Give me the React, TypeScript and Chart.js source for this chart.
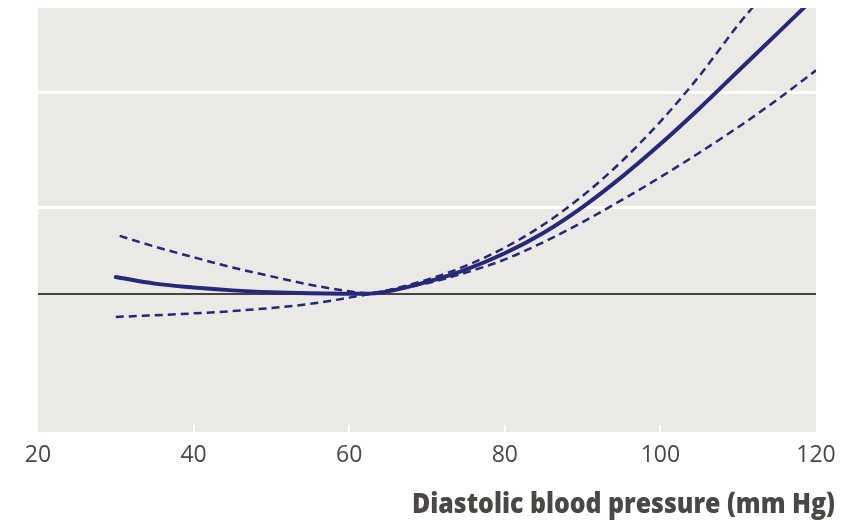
import React, { useEffect, useRef } from 'react';
import { Chart, registerables } from 'chart.js';

Chart.register(...registerables);

// ---- data ----
const xTickValues = [20, 40, 60, 80, 100, 120];
const yGridValues = [1, 2, 5];
const referenceValue = 1;
const xAxisTitle = 'Diastolic blood pressure (mm Hg)';

const estimateX = [30, 35, 40, 45, 50, 55, 60, 62, 65, 70, 75, 80, 85, 90, 95, 100, 105, 110, 115, 118.5];
const estimateY = [1.144, 1.085, 1.052, 1.028, 1.013, 1.005, 1.001, 1.0, 1.02, 1.1, 1.215, 1.384, 1.632, 2.004, 2.547, 3.32, 4.415, 5.96, 8.04, 9.92];

const upperX = [30.5, 35, 40, 45, 50, 55, 60, 62.3, 65, 70, 75, 80, 85, 90, 95, 100, 105, 110, 111.9];
const upperY = [1.59, 1.46, 1.34, 1.235, 1.15, 1.075, 1.02, 1.005, 1.03, 1.12, 1.252, 1.448, 1.742, 2.192, 2.886, 3.975, 5.726, 8.63, 9.95];

const lowerX = [30, 35, 40, 45, 50, 55, 60, 62.3, 65, 70, 75, 80, 85, 90, 95, 100, 105, 110, 115, 120];
const lowerY = [0.831, 0.842, 0.855, 0.871, 0.893, 0.923, 0.97, 0.995, 1.025, 1.089, 1.185, 1.317, 1.514, 1.777, 2.117, 2.547, 3.096, 3.8, 4.735, 5.99];

const NAVY = '#26287a';
const TEXT = '#4b4745';
const PANEL = '#eae9e5';

const toPoints = (xs: number[], ys: number[]) => xs.map((x, i) => ({ x, y: ys[i] }));

const panelPlugin = {
  id: 'panel',
  beforeDraw(chart: any) {
    const { ctx, chartArea } = chart;
    ctx.save();
    ctx.fillStyle = PANEL;
    ctx.fillRect(chartArea.left, chartArea.top, chartArea.right - chartArea.left, chartArea.bottom - chartArea.top);
    ctx.restore();
  },
  beforeDatasetsDraw(chart: any) {
    const { ctx, chartArea } = chart;
    const xs = chart.scales.x;
    ctx.save();
    ctx.strokeStyle = '#ffffff';
    ctx.lineWidth = 2;
    xTickValues.slice(1, -1).forEach((v) => {
      const px = Math.round(xs.getPixelForValue(v));
      ctx.beginPath();
      ctx.moveTo(px, chartArea.bottom - 7);
      ctx.lineTo(px, chartArea.bottom);
      ctx.stroke();
    });
    ctx.restore();
  },
  afterDraw(chart: any) {
    const { ctx, chartArea } = chart;
    ctx.save();
    ctx.fillStyle = TEXT;
    ctx.font = '800 29px "Open Sans"';
    ctx.textAlign = 'right';
    ctx.textBaseline = 'alphabetic';
    ctx.fillText(xAxisTitle, chartArea.right + 19, chartArea.bottom + 81, 423);
    ctx.restore();
  },
};

export default function App() {
  const canvasRef = useRef<HTMLCanvasElement | null>(null);

  useEffect(() => {
    if (!canvasRef.current) return;
    const common = {
      pointRadius: 0,
      fill: false,
      cubicInterpolationMode: 'monotone' as const,
      borderColor: NAVY,
    };
    const chart = new Chart(canvasRef.current, {
      type: 'line',
      data: {
        datasets: [
          { ...common, label: 'Estimate', data: toPoints(estimateX, estimateY), borderWidth: 4, borderCapStyle: 'round' },
          { ...common, label: 'Upper', data: toPoints(upperX, upperY), borderWidth: 2.5, borderDash: [8, 5] },
          { ...common, label: 'Lower', data: toPoints(lowerX, lowerY), borderWidth: 2.5, borderDash: [8, 5] },
        ],
      },
      options: {
        animation: false,
        responsive: false,
        layout: { padding: { left: 38, right: 40, top: 8, bottom: 0 } },
        plugins: { legend: { display: false }, tooltip: { enabled: false }, title: { display: false } },
        scales: {
          x: {
            type: 'linear',
            bounds: 'data',
            min: 20,
            max: 120,
            afterBuildTicks: (s: any) => {
              s.ticks = xTickValues.map((v) => ({ value: v }));
            },
            afterFit: (s: any) => {
              s.height = 88;
            },
            grid: { display: false, drawTicks: false },
            border: { display: false },
            ticks: {
              color: TEXT,
              padding: 10,
              maxRotation: 0,
              autoSkip: false,
              font: { family: '"Open Sans"', size: 23 },
            },
          },
          y: {
            type: 'logarithmic',
            bounds: 'data',
            min: 0.3306,
            max: 9.87,
            afterBuildTicks: (s: any) => {
              s.ticks = yGridValues.map((v) => ({ value: v }));
            },
            afterFit: (s: any) => {
              s.width = 0;
            },
            ticks: { display: false },
            border: { display: false },
            grid: {
              drawTicks: false,
              color: (c: any) => (c.tick && c.tick.value === referenceValue ? '#47433f' : '#ffffff'),
              lineWidth: (c: any) => (c.tick && c.tick.value === referenceValue ? 2 : 3),
            },
          },
        },
      },
      plugins: [panelPlugin],
    });
    return () => chart.destroy();
  }, []);

  return (
    <div style={{ position: 'absolute', left: 0, top: 0, width: 856, height: 520 }}>
      <canvas ref={canvasRef} width={856} height={520} style={{ display: 'block' }} />
    </div>
  );
}
